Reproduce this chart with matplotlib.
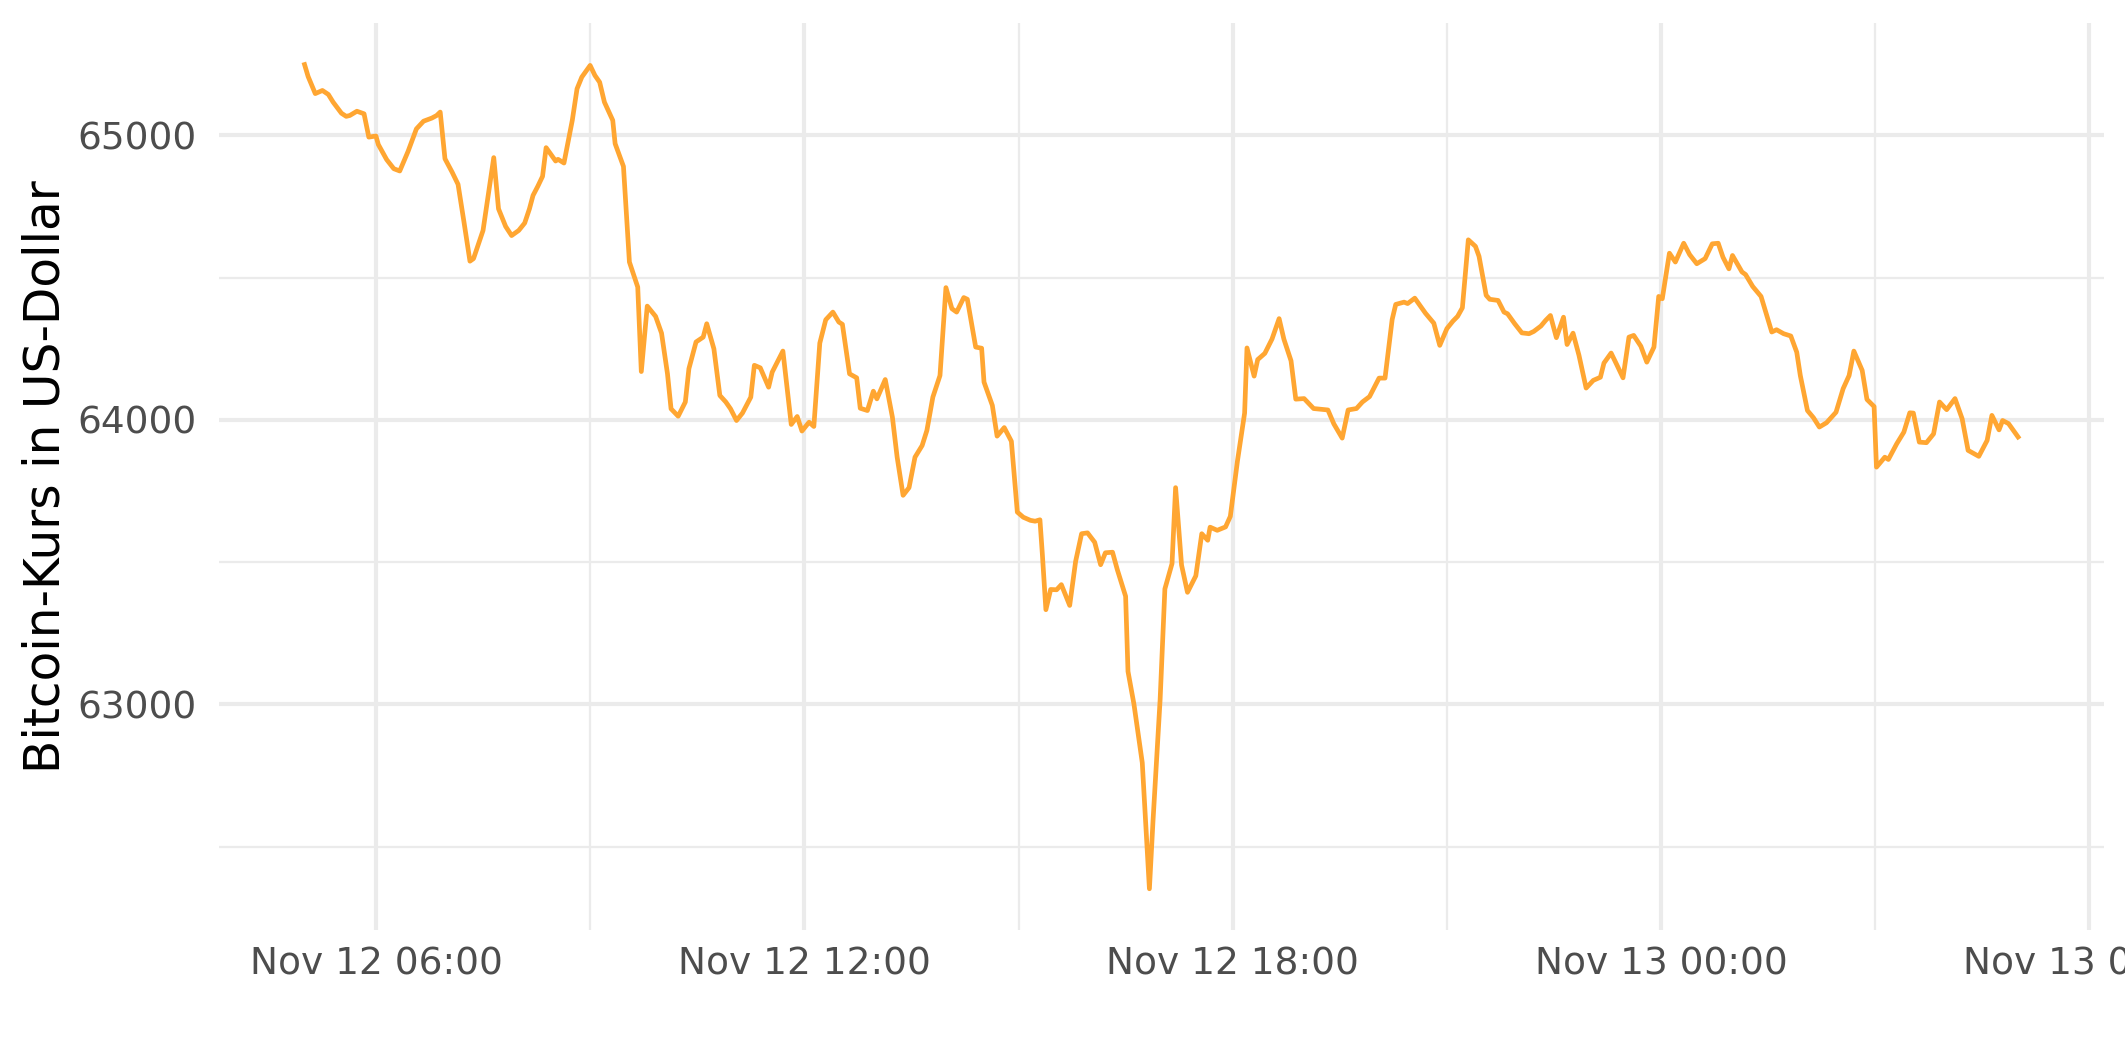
import pandas as pd
import matplotlib
matplotlib.use('Agg')
import matplotlib.pyplot as plt
import matplotlib.dates as mdates
from matplotlib.ticker import MultipleLocator

# Bitcoin price, minutes after Nov 12 05:00
start = pd.Timestamp('2021-11-12 05:00')
minutes = [0, 3, 9, 15, 20, 24, 31, 35, 38, 44, 50, 54, 60, 62, 69, 75, 80, 87, 94, 100,
           107, 111, 114, 118, 124, 129, 134, 139, 142, 150, 159, 163, 169, 174, 180, 185, 189, 192, 196, 200,
           203, 211, 213, 218, 225, 229, 233, 240, 244, 248, 252, 259, 261, 268, 273, 280, 283, 288, 295, 300,
           305, 308, 314, 320, 323, 329, 335, 338, 344, 349, 354, 358, 363, 368, 375, 378, 383, 390, 393, 402,
           409, 414, 418, 424, 428, 433, 438, 444, 449, 452, 458, 464, 467, 473, 478, 481, 488, 494, 498, 503,
           508, 513, 519, 523, 528, 534, 539, 544, 548, 554, 557, 564, 569, 571, 578, 582, 588, 594, 599, 604,
           610, 614, 618, 620, 623, 627, 632, 636, 643, 648, 653, 658, 664, 669, 673, 679, 683, 690, 692, 697,
           704, 710, 713, 719, 723, 729, 732, 737, 742, 749, 754, 759, 761, 767, 774, 778, 784, 790, 792, 798,
           801, 807, 813, 819, 823, 829, 833, 840, 848, 860, 865, 872, 877, 884, 889, 895, 903, 908, 914, 917,
           924, 927, 933, 942, 949, 954, 960, 965, 969, 973, 978, 984, 987, 993, 996, 1003, 1008, 1011, 1017, 1023,
           1029, 1033, 1039, 1043, 1047, 1052, 1058, 1061, 1066, 1071, 1077, 1083, 1089, 1092, 1098, 1103, 1108, 1113, 1117, 1123,
           1128, 1134, 1138, 1141, 1147, 1152, 1159, 1164, 1170, 1177, 1183, 1188, 1192, 1197, 1200, 1208, 1211, 1217, 1224, 1233,
           1237, 1243, 1249, 1254, 1257, 1263, 1268, 1273, 1279, 1287, 1293, 1298, 1302, 1309, 1313, 1319, 1321, 1328, 1331, 1338,
           1344, 1349, 1352, 1357, 1363, 1369, 1374, 1380, 1387, 1393, 1398, 1407, 1414, 1418, 1424, 1427, 1432, 1440]
price = [65249, 65207, 65147, 65158, 65144, 65117, 65078, 65067, 65070, 65085, 65076, 64994, 64998, 64968, 64915, 64883, 64875, 64944, 65023, 65050,
         65061, 65070, 65082, 64918, 64871, 64828, 64695, 64558, 64567, 64666, 64922, 64742, 64680, 64648, 64666, 64692, 64742, 64789, 64821, 64856,
         64957, 64910, 64916, 64903, 65053, 65164, 65205, 65246, 65211, 65187, 65117, 65053, 64971, 64891, 64555, 64467, 64170, 64400, 64364, 64305,
         64162, 64039, 64013, 64063, 64180, 64274, 64291, 64338, 64250, 64086, 64063, 64039, 63998, 64024, 64080, 64192, 64183, 64115, 64168, 64242,
         63984, 64012, 63961, 63992, 63977, 64270, 64352, 64379, 64344, 64336, 64162, 64148, 64041, 64033, 64101, 64074, 64142, 64010, 63869, 63735,
         63762, 63869, 63910, 63963, 64080, 64156, 64465, 64391, 64379, 64430, 64424, 64256, 64252, 64133, 64051, 63943, 63973, 63925, 63676, 63658,
         63647, 63644, 63649, 63530, 63333, 63404, 63403, 63421, 63348, 63503, 63600, 63603, 63570, 63491, 63533, 63535, 63474, 63380, 63116, 63001,
         62795, 62352, 62589, 63017, 63406, 63495, 63762, 63490, 63394, 63452, 63600, 63577, 63623, 63612, 63624, 63661, 63856, 64024, 64253, 64154,
         64212, 64234, 64284, 64356, 64284, 64208, 64073, 64075, 64040, 64035, 63986, 63936, 64035, 64040, 64063, 64082, 64147, 64147, 64353, 64406,
         64414, 64409, 64428, 64375, 64340, 64262, 64321, 64347, 64364, 64394, 64633, 64610, 64575, 64438, 64424, 64420, 64379, 64373, 64338, 64306,
         64303, 64311, 64330, 64350, 64367, 64289, 64361, 64265, 64305, 64227, 64112, 64139, 64150, 64200, 64235, 64192, 64148, 64291, 64297, 64259,
         64203, 64256, 64434, 64426, 64586, 64555, 64621, 64581, 64549, 64567, 64619, 64621, 64572, 64531, 64578, 64520, 64511, 64469, 64434, 64309,
         64317, 64303, 64295, 64238, 64156, 64033, 64008, 63975, 63990, 64027, 64110, 64156, 64242, 64174, 64072, 64047, 63834, 63869, 63861, 63916,
         63957, 64025, 64024, 63922, 63920, 63951, 64063, 64036, 64075, 64004, 63893, 63872, 63928, 64016, 63965, 63998, 63987, 63940]

times = start + pd.to_timedelta(minutes, unit='m')

fig = plt.figure(figsize=(10.625, 5.31), dpi=200)
ax = fig.add_axes([0.103, 0.1243, 0.887, 0.8537])

ax.plot(times, price, color='#ffa632', linewidth=1.7)

# ggplot-like 5% expansion
span = times.max() - times.min()
ax.set_xlim(times.min() - span * 0.05, times.max() + span * 0.05)
yr = max(price) - min(price)
ax.set_ylim(min(price) - yr * 0.05, max(price) + yr * 0.05)

ax.xaxis.set_major_locator(mdates.HourLocator(byhour=[0, 6, 12, 18]))
ax.xaxis.set_minor_locator(mdates.HourLocator(byhour=[3, 9, 15, 21]))
ax.xaxis.set_major_formatter(mdates.DateFormatter('%b %d %H:%M'))
ax.yaxis.set_major_locator(MultipleLocator(1000))
ax.yaxis.set_minor_locator(MultipleLocator(500))

ax.grid(which='major', color='#ebebeb', linewidth=1.5)
ax.grid(which='minor', color='#ebebeb', linewidth=0.8)
ax.set_axisbelow(True)
for s in ax.spines.values():
    s.set_visible(False)

ax.tick_params(which='both', length=0)
ax.tick_params(axis='y', labelsize=13.5, labelcolor='#4d4d4d', pad=8)
ax.tick_params(axis='x', labelsize=13.5, labelcolor='#4d4d4d', pad=6)
ax.set_ylabel('Bitcoin-Kurs in US-Dollar', fontsize=17.5, color='black', labelpad=3)

fig.savefig('out.png', dpi=200)
